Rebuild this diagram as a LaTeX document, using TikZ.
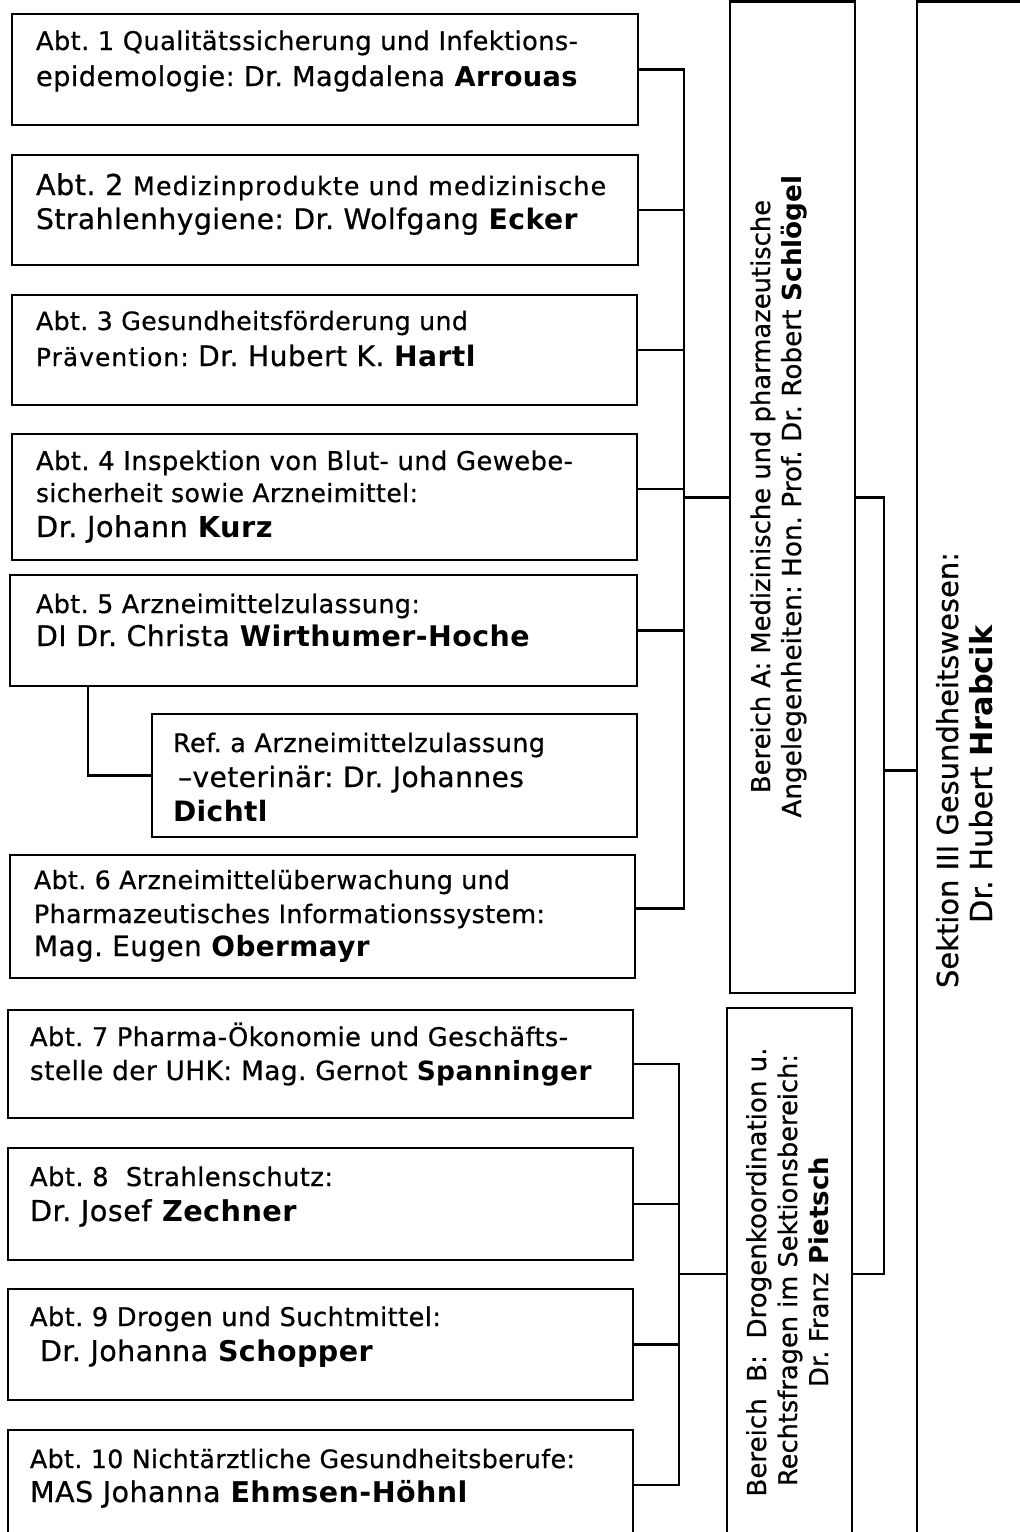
\documentclass[tikz,border=0pt]{standalone}
\usepackage{fontspec}
\setmainfont{DejaVu Sans}[LetterSpace=1.5, UprightFeatures={FakeBold=0.6}]
\newfontfamily\vfont{DejaVu Sans}[UprightFeatures={FakeBold=0.6}]
\usetikzlibrary{calc}
\frenchspacing

\newsavebox\fitbox
\newcommand\cursz{20}
% fit a line of text to a target width (pt) by scaling its font size
\newcommand\fitline[3]{%
  \begingroup\frenchspacing
  \def\cursz{#2}\fontsize{#2}{#2}\selectfont
  \sbox\fitbox{#3}%
  \edef\cursz{\fpeval{round(#2*(#1)/(\the\wd\fitbox),2)}}%
  \fontsize{\cursz}{\cursz}\selectfont #3%
  \endgroup}
\newcommand\sm[1]{{\addfontfeatures{LetterSpace=4.5,FakeBold=0.6}\edef\smsz{\fpeval{round(0.88*\cursz,2)}}\fontsize{\smsz}{\smsz}\selectfont #1}}

\tikzset{
  box/.style={draw, line width=2.8pt, inner sep=0pt, outer sep=0pt, anchor=north west},
  conn/.style={line width=2.8pt},
  txt/.style={anchor=base west, inner sep=0pt, outer sep=0pt},
  vtxt/.style={rotate=90, anchor=base, inner sep=0pt, outer sep=0pt},
}
\newcommand\bx[5]{\node[box, minimum width={#4-#2}, minimum height={#5-#3}] (#1) at (#2,#3) {};}
\newcommand\tl[4]{\node[txt] (#1) at (#2) {\fitline{#3}{22}{#4}};}
\newcommand\vl[4]{\node[vtxt] (#1) at (#2) {\vfont\fitline{#3}{25}{\vfont #4}};}

\begin{document}
\begin{tikzpicture}[x=1pt,y=-1pt]
\useasboundingbox (0,0) rectangle (1020,1532);
\fill[white] (0,0) rectangle (1020,1532);
\clip (0,0) rectangle (1020,1532);

% boxes
\bx{b1}{12}{14}{638}{125}
\bx{b2}{12}{155}{638}{265}
\bx{b3}{12}{295}{637}{405}
\bx{b4}{12}{434}{637}{560}
\bx{b5}{10}{575}{637}{686}
\bx{ref}{152}{714}{637}{837}
\bx{b6}{10}{855}{635}{978}
\bx{b7}{8}{1010}{633}{1118}
\bx{b8}{8}{1148}{633}{1260}
\bx{b9}{8}{1289}{633}{1400}
\bx{b10}{8}{1430}{633}{1540}
\bx{A}{730}{1.5}{855}{993}
\bx{B}{727}{1008}{852}{1540}
\bx{S}{917}{1.5}{1045}{1540}

% texts in boxes
\tl{t1a}{36,50}{542}{Abt. 1 Qualitätssicherung und Infektions-}
\tl{t1b}{36,86}{542}{epidemologie: Dr. Magdalena \textbf{Arrouas}}
\tl{t2a}{36,195}{570}{Abt. 2 \sm{Medizinprodukte und medizinische}}
\tl{t2b}{36,229}{542}{Strahlenhygiene: Dr. Wolfgang \textbf{Ecker}}
\tl{t3a}{36,330}{432}{Abt. 3 Gesundheitsförderung und}
\tl{t3b}{36,366}{440}{\sm{Prävention:} Dr. Hubert K. \textbf{Hartl}}
\tl{t4a}{36,470}{537}{Abt. 4 Inspektion von Blut- und Gewebe-}
\tl{t4b}{36,502}{382}{sicherheit sowie Arzneimittel:}
\tl{t4c}{36,537}{237}{Dr. Johann \textbf{Kurz}}
\tl{t5a}{36,613}{384}{Abt. 5 Arzneimittelzulassung:}
\tl{t5b}{36,646}{494}{DI Dr. Christa \textbf{Wirthumer-Hoche}}
\tl{tra}{173,752}{372}{Ref. a Arzneimittelzulassung}
\tl{trb}{178,787}{346}{–veterinär: Dr. Johannes}
\tl{trc}{173,821}{95}{\textbf{Dichtl}}
\tl{t6a}{34,889}{476}{Abt. 6 Arzneimittelüberwachung und}
\tl{t6b}{34,923}{511}{Pharmazeutisches Informationssystem:}
\tl{t6c}{34,956}{336}{Mag. Eugen \textbf{Obermayr}}
\tl{t7a}{30,1046}{538}{Abt. 7 Pharma-Ökonomie und Geschäfts-}
\tl{t7b}{30,1080}{562}{stelle der UHK: Mag. Gernot \textbf{Spanninger}}
\tl{t8a}{30,1186}{303}{Abt. 8\ \ Strahlenschutz:}
\tl{t8b}{30,1221}{267}{Dr. Josef \textbf{Zechner}}
\tl{t9a}{30,1326}{411}{Abt. 9 Drogen und Suchtmittel:}
\tl{t9b}{40,1361}{333}{Dr. Johanna \textbf{Schopper}}
\tl{t10a}{30,1468}{545}{Abt. 10 Nichtärztliche Gesundheitsberufe:}
\tl{t10b}{30,1502}{438}{MAS Johanna \textbf{Ehmsen-Höhnl}}

% vertical texts
\vl{ta1}{770,496.5}{593}{Bereich A: Medizinische und pharmazeutische}
\vl{ta2}{801,496.5}{642}{Angelegenheiten: Hon. Prof. Dr. Robert \textbf{Schlögel}}
\vl{tb1}{766,1272}{449}{Bereich\ \ B:\ \ Drogenkoordination u.}
\vl{tb2}{797,1270}{432}{Rechtsfragen im Sektionsbereich:}
\vl{tb3}{828,1272}{230}{Dr. Franz \textbf{Pietsch}}
\vl{ts1}{958,770}{436}{Sektion III Gesundheitswesen:}
\vl{ts2}{992,774}{298}{Dr. Hubert \textbf{Hrabcik}}

% connectors
\coordinate (bus1) at (684,0);
\coordinate (bus2) at (679,0);
\coordinate (bus3) at (884,0);
\coordinate (c4) at ([yshift=8pt]b4.east);
\coordinate (c6) at ([yshift=8pt]b6.east);
\draw[conn] (b1.east) -- (b1.east -| bus1) -- (c6 -| bus1) -- (c6);
\draw[conn] (b2.east) -- (b2.east -| bus1);
\draw[conn] (b3.east) -- (b3.east -| bus1);
\draw[conn] (c4) -- (c4 -| bus1);
\draw[conn] (b5.east) -- (b5.east -| bus1);
\draw[conn] (A.west -| bus1) -- (A.west);
\coordinate (r5) at ($(b5.south west)+(78,0)$);
\draw[conn] (r5) |- (ref.west);
\draw[conn] (b7.east) -- (b7.east -| bus2) -- (b10.east -| bus2) -- (b10.east);
\draw[conn] (b8.east) -- (b8.east -| bus2);
\draw[conn] (b9.east) -- (b9.east -| bus2);
\draw[conn] (B.west -| bus2) -- (B.west);
\draw[conn] (A.east) -- (A.east -| bus3) -- (B.east -| bus3) -- (B.east);
\draw[conn] (S.west -| bus3) -- (S.west);
\end{tikzpicture}
\end{document}
